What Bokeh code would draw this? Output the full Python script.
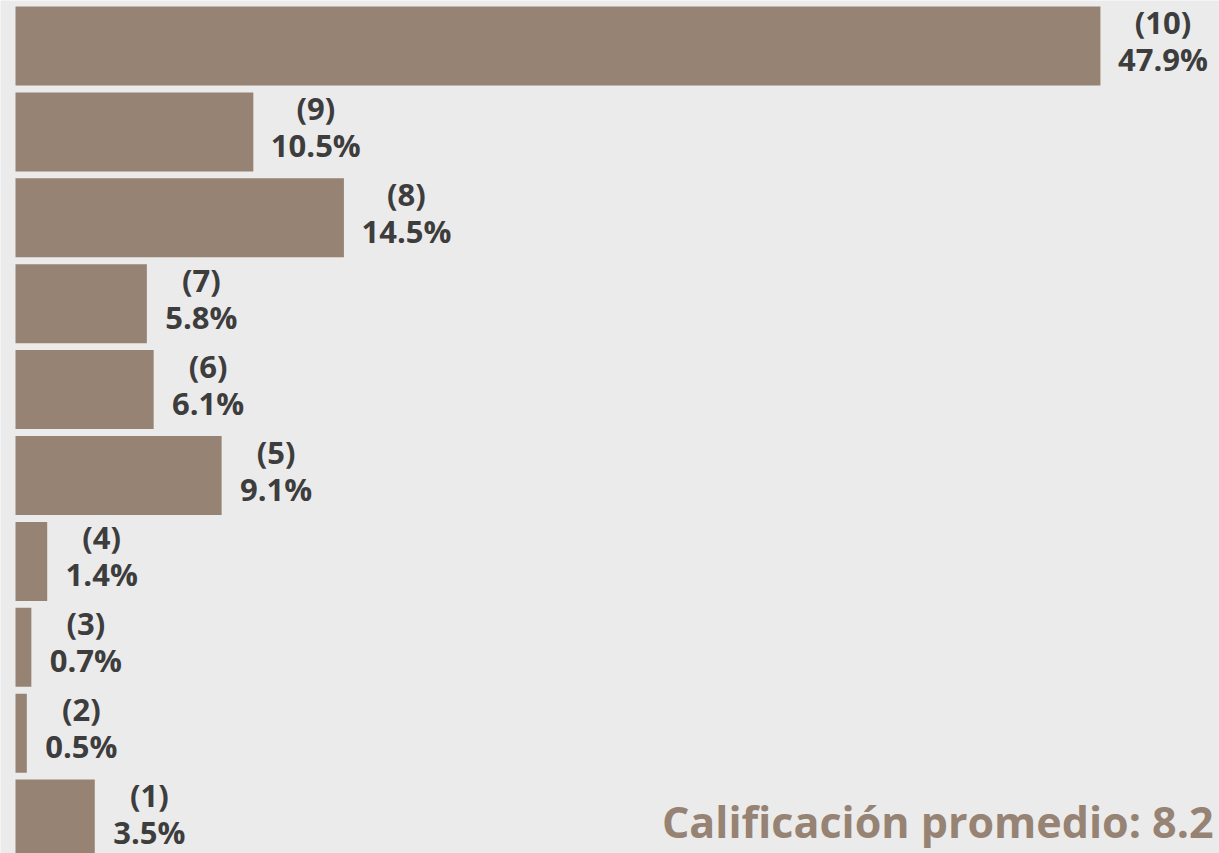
from bokeh.plotting import figure
from bokeh.models import ColumnDataSource, Range1d
from bokeh.core.properties import value
from bokeh.embed import file_html
from bokeh.resources import INLINE

scores = [10, 9, 8, 7, 6, 5, 4, 3, 2, 1]
shares = [47.9, 10.5, 14.5, 5.8, 6.1, 9.1, 1.4, 0.7, 0.5, 3.5]
score_labels = ["(%d)" % s for s in scores]
share_labels = ["%.1f%%" % v for v in shares]
average = sum(s * v for s, v in zip(scores, shares)) / sum(shares)
title_text = "Calificación promedio: %.1f" % average

BAR = "#968374"
BG = "#ebebeb"
TXT = "#3d3d3d"
FONT = value("Open Sans")

W, H = 1219, 853
px_x = 22.65
px_y = 85.9
x0 = -15 / px_x
y_top = 10 + 45.5 / px_y

src = ColumnDataSource(dict(
    y=scores, x=shares, n=score_labels, pct=share_labels,
    off=[15 + (len(s) * 16 + 15) / 2 for s in share_labels],
))

p = figure(width=W, height=H, output_backend="svg", toolbar_location=None,
           x_range=Range1d(x0, x0 + W / px_x), y_range=Range1d(y_top - H / px_y, y_top),
           min_border=0, background_fill_color=BG, border_fill_color=BG,
           outline_line_color=None)
p.axis.visible = False
p.grid.visible = False

p.hbar(y="y", right="x", left=0, height=79 / px_y, source=src, fill_color=BAR, line_color=None)

p.text(x="x", y="y", text="n", source=src, x_offset="off", y_offset=-24,
       text_align="center", text_baseline="middle", text_color=TXT,
       text_font=FONT, text_font_style="bold", text_font_size="31px")
p.text(x="x", y="y", text="pct", source=src, x_offset="off", y_offset=13,
       text_align="center", text_baseline="middle", text_color=TXT,
       text_font=FONT, text_font_style="bold", text_font_size="31px")

p.text(x=[x0 + 1213 / px_x], y=[y_top - 821 / px_y], text=[title_text],
       text_align="right", text_baseline="alphabetic",
       text_color=BAR, text_font=FONT, text_font_style="bold", text_font_size="43px")

open("out.html", "w").write(file_html(p, INLINE))
